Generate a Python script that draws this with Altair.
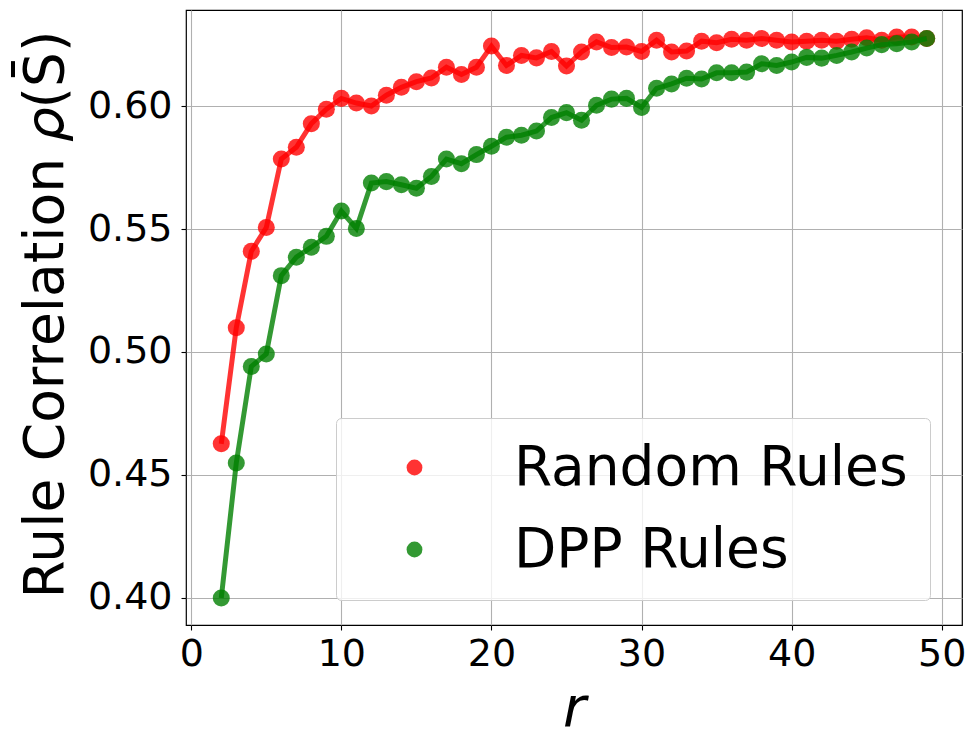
import altair as alt
import pandas as pd

r_values = list(range(2, 50))
random_rules = [0.4626, 0.5099, 0.5410, 0.5507, 0.5786, 0.5834, 0.5930, 0.5989, 0.6033, 0.6014,
                0.6002, 0.6046, 0.6078, 0.6101, 0.6116, 0.6160, 0.6130, 0.6160, 0.6246, 0.6167,
                0.6208, 0.6198, 0.6224, 0.6165, 0.6222, 0.6263, 0.6240, 0.6242, 0.6224, 0.6270,
                0.6222, 0.6226, 0.6266, 0.6260, 0.6274, 0.6270, 0.6277, 0.6270, 0.6263, 0.6266,
                0.6270, 0.6266, 0.6274, 0.6280, 0.6270, 0.6283, 0.6283, 0.6277]
dpp_rules = [0.3998, 0.4548, 0.4941, 0.4992, 0.5311, 0.5386, 0.5427, 0.5471, 0.5574, 0.5503,
             0.5688, 0.5694, 0.5681, 0.5667, 0.5715, 0.5786, 0.5767, 0.5804, 0.5838, 0.5875,
             0.5883, 0.5900, 0.5955, 0.5975, 0.5944, 0.6005, 0.6030, 0.6033, 0.5996, 0.6074,
             0.6092, 0.6115, 0.6112, 0.6137, 0.6137, 0.6140, 0.6174, 0.6167, 0.6181, 0.6200,
             0.6197, 0.6208, 0.6222, 0.6238, 0.6252, 0.6256, 0.6263, 0.6277]
series_names = ["Random Rules", "DPP Rules"]
series_colors = ["#ff0000", "#008000"]
x_ticks = [0, 10, 20, 30, 40, 50]
y_ticks = [0.40, 0.45, 0.50, 0.55, 0.60]

df = pd.concat([
    pd.DataFrame({"r": r_values, "v": random_rules, "series": series_names[0]}),
    pd.DataFrame({"r": r_values, "v": dpp_rules, "series": series_names[1]}),
])

FONT = "DejaVu Sans"

x_enc = alt.X("r:Q", scale=alt.Scale(domain=[-0.35, 51.35], nice=False, zero=False),
              axis=alt.Axis(values=x_ticks, title="r", titleFontStyle="italic",
                            titleFontSize=56, titleFontWeight="normal", titleFont=FONT,
                            titleX=388, titleY=100, titleBaseline="alphabetic",
                            labelFontSize=38, labelFont=FONT, labelPadding=5,
                            tickSize=5, labelFlush=False))
y_enc = alt.Y("v:Q", scale=alt.Scale(domain=[0.3888, 0.6393], nice=False, zero=False),
              axis=alt.Axis(values=y_ticks, format=".2f", title="Rule Correlation \U0001D70C(S\u0304)",
                            titleFontSize=55, titleFontWeight="normal", titleFont=FONT,
                            titleX=-124, titleY=304, titleAngle=270, titleBaseline="alphabetic",
                            titleAlign="center",
                            labelFontSize=38, labelFont=FONT, labelPadding=9,
                            tickSize=5, labelFlush=False))

base = alt.Chart(df)

layers = []
for name, col in zip(series_names, series_colors):
    sub = base.transform_filter(alt.datum.series == name)
    layers.append(sub.mark_line(strokeWidth=5, opacity=0.8, color=col).encode(x=x_enc, y=y_enc))
    layers.append(sub.mark_point(filled=True, size=290, opacity=0.8, strokeWidth=0, shape="circle").encode(
        x=x_enc, y=y_enc,
        color=alt.Color("series:N", scale=alt.Scale(domain=series_names, range=series_colors),
                        legend=alt.Legend(title=None, orient="none", legendX=150, legendY=408,
                                          padding=22, symbolOffset=29, labelOffset=72,
                                          rowPadding=26, labelFontSize=55, labelFont=FONT,
                                          labelLimit=0,
                                          symbolSize=250, symbolOpacity=0.8, symbolType="circle",
                                          symbolStrokeWidth=0,
                                          strokeColor="#cccccc", fillColor="rgba(255,255,255,0.8)",
                                          cornerRadius=5, labelColor="black"))
    ))

chart = alt.layer(*layers).properties(
    width=776, height=615,
    autosize=alt.AutoSizeParams(type="none"),
    padding={"left": 178, "top": 2, "right": 7, "bottom": 114},
).configure_view(stroke="black", strokeWidth=1.2).configure_axis(
    grid=True, gridColor="#b0b0b0", gridWidth=1.1, domain=False,
    tickColor="black", tickWidth=1.1, labelColor="black", titleColor="black",
)

chart.save("out.html", embed_options={"renderer": "svg", "actions": False})
